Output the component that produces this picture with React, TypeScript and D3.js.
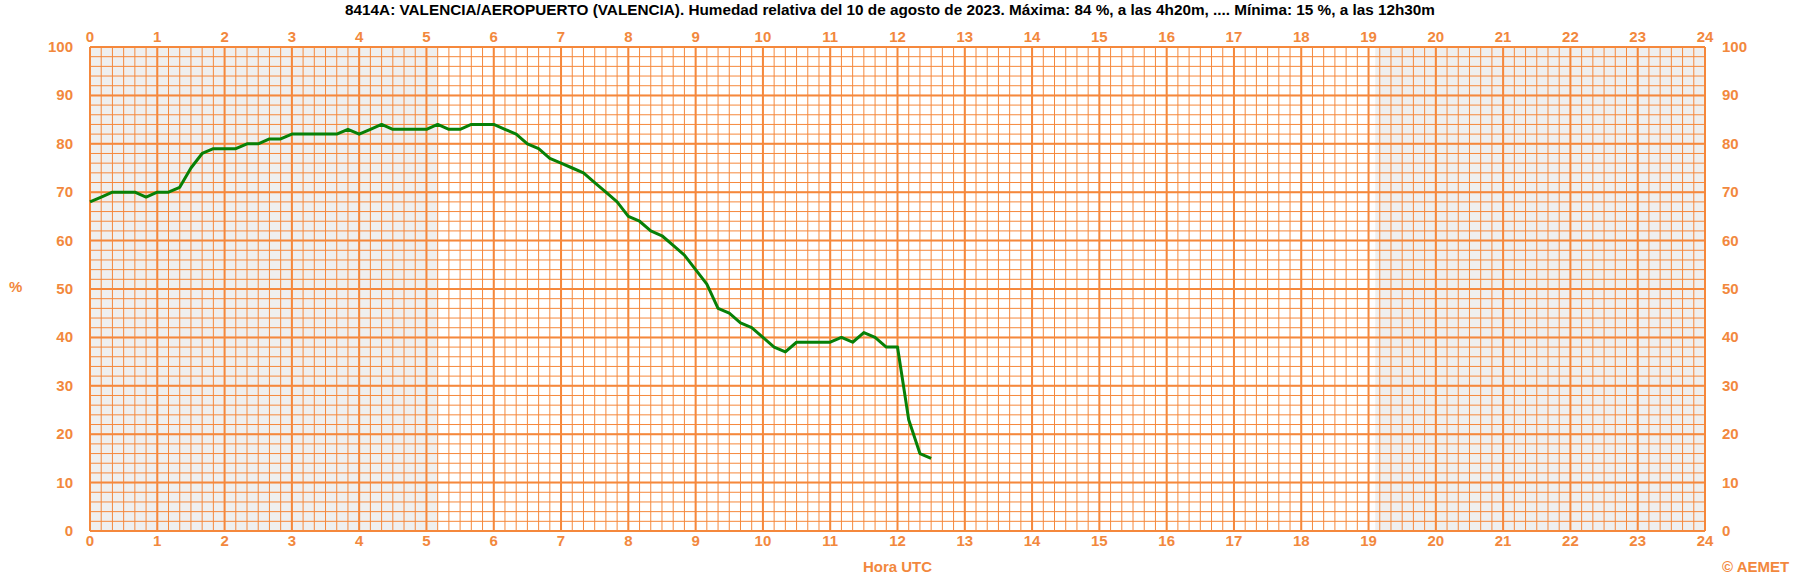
import React from "react";
import * as d3 from "d3";

const title =
  "8414A: VALENCIA/AEROPUERTO (VALENCIA). Humedad relativa del 10 de agosto de 2023. Máxima: 84 %, a las 4h20m, .... Mínima: 15 %, a las 12h30m";

const hourTicks = d3.range(0, 25);
const yTicks = d3.range(0, 101, 10);
const minorX = d3.range(0, 24 * 60 + 1, 10); // minutes
const minorY = d3.range(0, 101, 2);

// Relative humidity, every 10 minutes from 00:00 UTC
const humidity = [
  68, 69, 70, 70, 70, 69, 70, 70, 71, 75, 78, 79,
  79, 79, 80, 80, 81, 81, 82, 82, 82, 82, 82, 83,
  82, 83, 84, 83, 83, 83, 83, 84, 83, 83, 84, 84,
  84, 83, 82, 80, 79, 77, 76, 75, 74, 72, 70, 68,
  65, 64, 62, 61, 59, 57, 54, 51, 46, 45, 43, 42,
  40, 38, 37, 39, 39, 39, 39, 40, 39, 41, 40, 38,
  38, 23, 16, 15,
];
const minutes = humidity.map((_, i) => i * 10);

// night periods (hours UTC)
const nightBands: [number, number][] = [
  [0, 5.17],
  [19.1, 24],
];

const W = 1795;
const H = 577;
const M = { left: 90, right: 1705, top: 47, bottom: 531 };

const ORANGE = "#F5883C";
const TEXT_ORANGE = "#F2883D";
const FONT = "'Liberation Sans', Arial, sans-serif";

export default function App() {
  const x = d3.scaleLinear().domain([0, 24]).range([M.left, M.right]);
  const y = d3.scaleLinear().domain([0, 100]).range([M.bottom, M.top]);

  const line = d3
    .line<number>()
    .x((_, i) => x(minutes[i] / 60))
    .y((d) => y(d));

  return (
    <div style={{ position: "fixed", left: 0, top: 0 }}>
      <svg width={W} height={H} style={{ display: "block", background: "#fff" }} fontFamily={FONT}>
        <text
          x={890}
          y={15}
          textAnchor="middle"
          fontSize={15.3}
          fontWeight="bold"
          fill="#000"
        >
          {title}
        </text>

        {nightBands.map(([a, b], i) => (
          <rect
            key={i}
            x={x(a)}
            y={y(100)}
            width={x(b) - x(a)}
            height={y(0) - y(100)}
            fill="#EFEFEF"
          />
        ))}

        {/* minor grid */}
        {minorX.map((m) => (
          <line
            key={"mx" + m}
            x1={x(m / 60)}
            x2={x(m / 60)}
            y1={y(0)}
            y2={y(100)}
            stroke={ORANGE}
            strokeWidth={1}
          />
        ))}
        {minorY.map((v) => (
          <line
            key={"my" + v}
            x1={x(0)}
            x2={x(24)}
            y1={y(v)}
            y2={y(v)}
            stroke={ORANGE}
            strokeWidth={1}
          />
        ))}
        {/* major grid */}
        {hourTicks.map((h) => (
          <line
            key={"hx" + h}
            x1={x(h)}
            x2={x(h)}
            y1={y(0)}
            y2={y(100)}
            stroke={ORANGE}
            strokeWidth={2}
          />
        ))}
        {yTicks.map((v) => (
          <line
            key={"hy" + v}
            x1={x(0)}
            x2={x(24)}
            y1={y(v)}
            y2={y(v)}
            stroke={ORANGE}
            strokeWidth={2}
          />
        ))}

        {/* hour labels */}
        {hourTicks.map((h) => (
          <g key={"hl" + h} fill={TEXT_ORANGE} fontSize={15} fontWeight="bold">
            <text x={x(h)} y={42} textAnchor="middle">
              {h}
            </text>
            <text x={x(h)} y={546} textAnchor="middle">
              {h}
            </text>
          </g>
        ))}
        {yTicks.map((v) => (
          <g key={"yl" + v} fill={TEXT_ORANGE} fontSize={15} fontWeight="bold">
            <text x={73} y={y(v) + 5} textAnchor="end">
              {v}
            </text>
            <text x={1722} y={y(v) + 5} textAnchor="start">
              {v}
            </text>
          </g>
        ))}

        <text x={9} y={292} fill={TEXT_ORANGE} fontSize={15} fontWeight="bold">
          %
        </text>
        <text
          x={(M.left + M.right) / 2}
          y={572}
          textAnchor="middle"
          fill={TEXT_ORANGE}
          fontSize={15}
          fontWeight="bold"
        >
          Hora UTC
        </text>
        <text x={1722} y={572} fill={TEXT_ORANGE} fontSize={15} fontWeight="bold">
          © AEMET
        </text>

        <path
          d={line(humidity) || ""}
          fill="none"
          stroke="#078007"
          strokeWidth={3}
          strokeLinejoin="round"
        />
      </svg>
    </div>
  );
}
